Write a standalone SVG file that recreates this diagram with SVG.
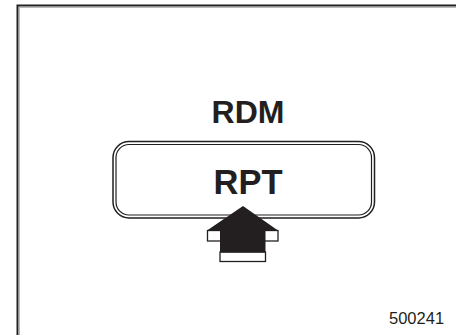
<svg xmlns="http://www.w3.org/2000/svg" width="456" height="335" viewBox="0 0 456 335">
<style>
.t{font-family:"Liberation Sans",Arial,sans-serif;fill:#231f20}
.b{font-weight:bold}
.ln{fill:none;stroke:#231f20}
</style>
<rect width="456" height="335" fill="#fff"/>
<g id="frame">
<path d="M17.5 335 V5.5 H456" class="ln" stroke-width="2"/>
<path d="M19.2 335 V7.2 H456" fill="none" stroke="#9a9a9a" stroke-width="1"/>
</g>
<g id="rdm-label">
<text x="248" y="123" text-anchor="middle" class="t b" font-size="32">RDM</text>
</g>
<g id="rpt-button">
<rect x="113" y="141.5" width="261.5" height="76.5" rx="16" class="ln" stroke-width="1.5"/>
<rect x="116" y="144.5" width="255.5" height="70.5" rx="13" class="ln" stroke-width="1.2"/>
<text x="248" y="194" text-anchor="middle" class="t b" font-size="34.5">RPT</text>
</g>
<g id="arrow">
<rect x="207.5" y="230.5" width="70.5" height="10.5" fill="#fff" stroke="#231f20" stroke-width="1.3"/>
<rect x="220" y="252" width="45.5" height="9.5" fill="#fff" stroke="#231f20" stroke-width="1.3"/>
<path d="M243 206 L207 230.5 L220 230.5 L220 252.5 L265.5 252.5 L265.5 230.5 L278 230.5 Z" fill="#231f20"/>
</g>
<g id="figure-number">
<text x="389" y="323.5" class="t" font-size="16.5">500241</text>
</g>
</svg>
